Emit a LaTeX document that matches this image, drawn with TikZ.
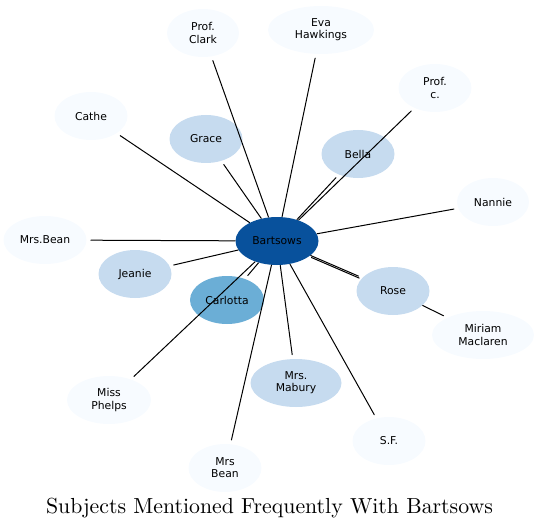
\documentclass[tikz,border=0pt]{standalone}
\usepackage{fontspec}
\newfontfamily\dejavu{DejaVu Sans}
\usetikzlibrary{shapes.geometric}
\definecolor{hubblue}{HTML}{08519C}
\definecolor{midblue}{HTML}{6BAED6}
\definecolor{paleblue}{HTML}{C6DBEF}
\definecolor{faintblue}{HTML}{F7FBFF}
\begin{document}
\begin{tikzpicture}[x=0.5pt, y=-0.5pt, font=\dejavu\fontsize{5.4}{6.1}\selectfont, line join=round, line cap=round]
			\tikzset{subj/.style={ellipse, inner sep=0pt, minimum height=24pt, minimum width=36.5pt, align=center},
				link/.style={line width=0.5pt, shorten >=2pt}}
			\useasboundingbox (0,0) rectangle (539,529);
			% centre
			\node[subj, fill=hubblue, minimum width=41.5pt] (bart) at (277,241) {Bartsows};
			% subjects round it
			\foreach \n/\x/\y/\w/\c/\t in {
				clark/203/33/36/faintblue/{Prof.\\Clark},
				eva/321/30/53/faintblue/{Eva\\Hawkings},
				profc/435/88/36.5/faintblue/{Prof.\\c.},
				cathe/91/116/36.5/faintblue/{Cathe},
				grace/206/139/36.5/paleblue/{Grace},
				bella/358/154/36.5/paleblue/{Bella},
				nannie/493/202/36/faintblue/{Nannie},
				mrsbean/45/240/41.5/faintblue/{Mrs.Bean},
				jeanie/135/274/36.5/paleblue/{Jeanie},
				carlotta/227/300/37/midblue/{Carlotta},
				rose/393/291/36.5/paleblue/{Rose},
				miriam/483/335/51/faintblue/{Miriam\\Maclaren},
				phelps/109/400/42/faintblue/{Miss\\Phelps},
				mabury/296/383/45.5/paleblue/{Mrs.\\Mabury},
				sf/389/441/36.5/faintblue/{S.F.},
				bean/225/468/36.5/faintblue/{Mrs\\Bean}}
			{\node[subj, fill=\c, minimum width=\w pt] (\n) at (\x,\y) {\t};}
			% connectors
			\foreach \n in {clark,eva,profc,cathe,grace,bella,nannie,mrsbean,jeanie,carlotta,rose,phelps,mabury,sf,bean}
			{\draw[link] (bart) -- (\n);}
			\draw[link, transform canvas={shift={(0.4pt,-1pt)}}] (bart) -- (rose);
			\draw[link] (rose) -- (miriam);
			% title
			\node[font=\rmfamily\fontsize{10.9}{12}\selectfont] (title) at (269.5,508) {Subjects Mentioned Frequently With Bartsows};
		\end{tikzpicture}
\end{document}
